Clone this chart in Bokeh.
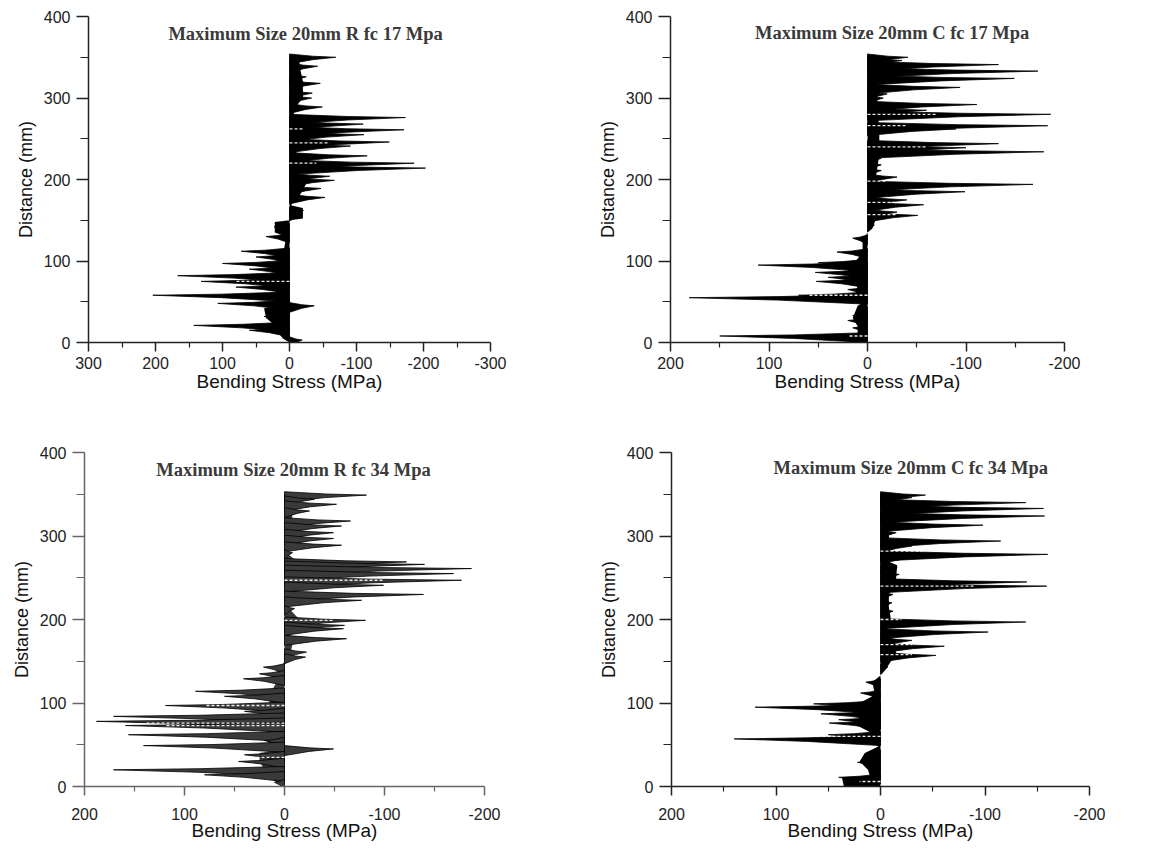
from bokeh.plotting import figure
from bokeh.models import Range1d, FixedTicker, Label
from bokeh.layouts import column, row
from bokeh.embed import file_html
from bokeh.resources import INLINE

# ---------------- data ----------------
titles = ["Maximum Size 20mm R fc 17 Mpa", "Maximum Size 20mm C fc 17 Mpa",
          "Maximum Size 20mm R fc 34 Mpa", "Maximum Size 20mm C fc 34 Mpa"]

x_ticks_300 = [300, 200, 100, 0, -100, -200, -300]
x_minor_300 = [250, 150, 50, -50, -150, -250]
x_ticks_200 = [200, 100, 0, -100, -200]
x_minor_200 = [150, 50, -50, -150]
y_ticks = [0, 100, 200, 300, 400]
y_minor = [50, 150, 250, 350]

# Panel 1 : R fc 17
p1_spike_d = [350, 339, 326, 318, 306, 300, 289, 276, 268, 261, 255, 246, 241, 229, 220, 214,
              204, 199, 189, 178, 162, 157, 142, 130, 112, 105, 97, 90, 82, 75, 68, 58, 48, 45,
              35, 32, 21, 15, 3]
p1_spike_s = [-69, -42, -25, -46, -34, -33, -49, -173, -110, -171, -111, -149, -91, -116, -186, -203,
              -60, -67, -47, -53, -21, -20, 23, 35, 72, 50, 100, 60, 167, 132, 80, 204, 107, -37,
              30, 38, 143, 60, -19]
p1_base_d = [0, 5, 10, 20, 30, 42, 45, 55, 70, 85, 100, 115, 130, 135, 148, 150, 152, 165, 168,
             175, 180, 195, 205, 230, 260, 285, 300, 320, 340, 350]
p1_base_s = [0, 10, 15, 20, 35, 38, 5, 20, 20, 20, 12, 8, 5, 22, 22, 0, -20, -20, -3,
             -3, -15, -25, -15, -10, -15, -5, -20, -20, -15, -15]
p1_streak_d = [262, 245, 220, 75]
p1_streak_s = [-20, -60, -40, 80]

# Panel 2 : C fc 17
p2_spike_d = [350, 346, 341, 333, 324, 313, 305, 300, 292, 285, 280, 266, 262, 244, 239, 234, 226,
              218, 211, 203, 194, 185, 175, 169, 160, 156, 144, 128, 111, 98, 95, 86, 80, 75, 65,
              58, 55, 40, 33, 27, 18, 8, 4]
p2_spike_s = [-41, -35, -133, -173, -149, -94, -20, -16, -111, -60, -186, -183, -90, -133, -100, -179, -14,
              -14, -14, -30, -168, -99, -40, -57, -30, -51, -7, 15, 31, 50, 111, 53, 40, 52, 20,
              70, 181, 10, 15, 20, 15, 150, 30]
p2_base_d = [0, 10, 20, 30, 45, 50, 60, 70, 90, 100, 110, 125, 135, 140, 150, 180, 200, 230, 260,
             290, 320, 350]
p2_base_s = [5, 10, 10, 15, 10, 3, 12, 10, 20, 12, 5, 5, 0, -5, -8, -8, -8, -12, -12,
             -10, -10, -15]
p2_streak_d = [280, 266, 240, 198, 172, 157, 58, 8]
p2_streak_s = [-70, -40, -60, -20, -30, -30, 60, 20]

# Panel 3 : R fc 34
p3_spike_d = [349, 344, 338, 330, 318, 312, 304, 297, 289, 280, 269, 266, 261, 255, 247, 241, 230,
              223, 213, 199, 193, 189, 177, 161, 155, 143, 135, 129, 114, 108, 97, 90, 84, 78, 73,
              62, 55, 49, 45, 38, 30, 20, 14, 5]
p3_spike_s = [-82, -30, -52, -25, -66, -57, -49, -49, -57, -8, -122, -140, -187, -169, -177, -99, -139,
              -77, -10, -81, -60, -59, -62, -22, -21, 21, 25, 41, 89, 60, 119, 40, 171, 188, 159,
              156, 20, 141, -49, 40, 46, 171, 80, 10]
p3_base_d = [0, 10, 20, 30, 40, 45, 50, 60, 70, 80, 90, 100, 110, 125, 140, 150, 155, 170, 185,
             200, 215, 230, 250, 270, 280, 290, 320, 350]
p3_base_s = [0, 15, 20, 25, 25, 0, 15, 20, 15, 20, 12, 15, 15, 8, 5, 0, -5, -8, -5,
             -15, -3, -10, -15, -12, -2, -8, -8, -5]
p3_streak_d = [247, 199, 97, 76, 73, 35]
p3_streak_s = [-100, -50, 80, 140, 120, 30]

# Panel 4 : C fc 34
p4_spike_d = [349, 346, 340, 333, 324, 320, 313, 304, 294, 288, 278, 275, 262, 254, 245, 240, 230,
              220, 210, 197, 185, 175, 168, 157, 143, 125, 112, 99, 95, 87, 80, 76, 62, 57, 40,
              29, 19, 11]
p4_spike_s = [-43, -30, -139, -156, -157, -30, -98, -15, -115, -30, -160, -40, -16, -18, -140, -159, -12,
              -11, -12, -139, -103, -30, -61, -53, -7, 14, 19, 64, 120, 57, 40, 49, 50, 140, 12,
              22, 10, 40]
p4_base_d = [0, 11, 12, 20, 30, 40, 48, 55, 65, 75, 90, 100, 110, 125, 133, 140, 150, 160, 175,
             185, 200, 215, 230, 250, 265, 272, 285, 300, 320, 340, 350]
p4_base_s = [35, 37, 10, 12, 20, 15, 2, 10, 10, 25, 15, 20, 5, 8, 0, -5, -10, -15, -12,
             -5, -10, -8, -8, -15, -16, -3, -10, -8, -8, -10, -15]
p4_streak_d = [282, 240, 200, 170, 158, 60, 6]
p4_streak_s = [-40, -90, -20, -30, -30, 55, 20]

SANS = "Liberation Sans"
SERIF = "Liberation Serif"


def make_panel(title, xlim, xt, xm, sd, ss, bd, bs, std, sts, w, h, mb, title_xy,
               tick_standoff, label_standoff, axis_color="#222222", fill="black"):
    mbl, mbr, mbt, mbb = mb
    p = figure(width=w, height=h, x_range=Range1d(xlim, -xlim), y_range=Range1d(0, 400),
               output_backend="svg", toolbar_location=None,
               min_border_left=mbl, min_border_right=mbr,
               min_border_top=mbt, min_border_bottom=mbb)
    p.grid.visible = False
    p.outline_line_color = None
    p.background_fill_color = "white"
    p.border_fill_color = "white"

    # dense band of overlapping sections near the axis
    p.harea(y=bd, x1=0, x2=bs, fill_color=fill, fill_alpha=1.0)
    # spikes (wedge shaped sections)
    xs, ys = [], []
    for d, s in zip(sd, ss):
        xs.append([0, 0.5 * s, s, 0.5 * s, 0])
        ys.append([d - 8.0, d - 3.0, d, d + 1.3, d + 4.0])
    p.patches(xs, ys, fill_color=fill, line_color="black", line_width=0.8)
    # white hatch streaks inside the filled sections
    p.segment(x0=[0] * len(std), y0=std, x1=sts, y1=std, line_color="white",
              line_width=1.3, line_dash="3 2", line_alpha=0.9)

    # axes
    for ax in (p.xaxis[0], p.yaxis[0]):
        ax.axis_line_color = axis_color
        ax.axis_line_width = 1.5
        ax.major_tick_line_color = axis_color
        ax.minor_tick_line_color = axis_color
        ax.major_tick_line_width = 1.5
        ax.minor_tick_line_width = 1.2
        ax.major_tick_in = 0
        ax.minor_tick_in = 0
        ax.major_label_text_font = SANS
        ax.major_label_text_font_size = "16px"
        ax.major_label_text_color = "#222222"
        ax.axis_label_text_font = SANS
        ax.axis_label_text_font_style = "normal"
        ax.axis_label_text_color = "#111111"

    xa = p.xaxis[0]
    xa.ticker = FixedTicker(ticks=xt, minor_ticks=xm)
    xa.major_label_overrides = {t: str(t) for t in xt}
    xa.major_tick_out = 9
    xa.minor_tick_out = 5
    xa.major_label_standoff = tick_standoff
    xa.axis_label = "Bending Stress (MPa)"
    xa.axis_label_text_font_size = "19px"
    xa.axis_label_standoff = label_standoff

    ya = p.yaxis[0]
    ya.ticker = FixedTicker(ticks=y_ticks, minor_ticks=y_minor)
    ya.major_label_overrides = {t: str(t) for t in y_ticks}
    ya.major_tick_out = 12
    ya.minor_tick_out = 8
    ya.major_label_standoff = 6
    ya.axis_label = "Distance (mm)"
    ya.axis_label_text_font_size = "18px"
    ya.axis_label_standoff = 5

    p.add_layout(Label(x=title_xy[0], y=title_xy[1], text=title, text_font=SERIF,
                       text_font_size="18.5px", text_font_style="bold", text_color="#3a3a3a",
                       text_align="center", text_baseline="middle"))
    return p


p1 = make_panel(titles[0], 300, x_ticks_300, x_minor_300, p1_spike_d, p1_spike_s,
                p1_base_d, p1_base_s, p1_streak_d, p1_streak_s,
                590, 420, (88, 100, 16, 78), (-24, 379), 5, -1)
p2 = make_panel(titles[1], 200, x_ticks_200, x_minor_200, p2_spike_d, p2_spike_s,
                p2_base_d, p2_base_s, p2_streak_d, p2_streak_s,
                582, 420, (80, 108, 16, 78), (-25, 380), 5, -1)
p3 = make_panel(titles[2], 200, x_ticks_200, x_minor_200, p3_spike_d, p3_spike_s,
                p3_base_d, p3_base_s, p3_streak_d, p3_streak_s,
                590, 426, (84, 106, 32, 60), (-9, 379), 12, -3,
                axis_color="#666666", fill="#3a3a3a")
p4 = make_panel(titles[3], 200, x_ticks_200, x_minor_200, p4_spike_d, p4_spike_s,
                p4_base_d, p4_base_s, p4_streak_d, p4_streak_s,
                582, 426, (81, 83, 32, 60), (-29, 381), 12, -3)

layout = column(row(p1, p2), row(p3, p4))
open("out.html", "w").write(file_html(layout, INLINE))
